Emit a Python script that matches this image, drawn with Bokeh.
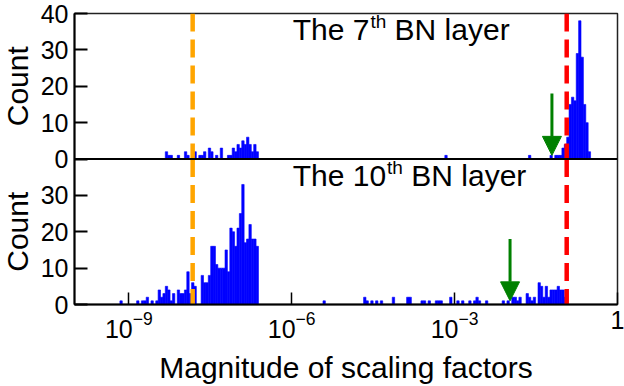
import math
from bokeh.plotting import figure
from bokeh.layouts import row
from bokeh.core.properties import value
from bokeh.models import (Range1d, FixedTicker, LogTickFormatter, Span, Label,
                          Arrow, NormalHead)
from bokeh.embed import file_html
from bokeh.resources import INLINE

# ---------------- data ----------------
# histogram of |scaling factors|, uniform bins in log10 space
LOG_X_MIN = -10.0
LOG_X_MAX = 0.0
BIN_WIDTH_DEC = 0.044

# 7th BN layer: bin index -> count
bn7_bins = [38, 39, 40, 43, 46, 47, 49, 50, 52, 53, 54, 56, 57, 59, 61, 64, 65,
            66, 67, 68, 69, 70, 71, 72, 73, 74, 75, 76,
            155, 190, 199, 201, 202, 203, 204, 205, 206, 207, 208, 209, 210,
            211, 212, 213, 214, 215]
bn7_counts = [2, 1, 1, 1, 2, 1, 2, 2, 1, 1, 2, 3, 2, 1, 3, 1, 1,
              3, 2, 4, 3, 5, 4, 6, 4, 2, 4, 2,
              1, 1, 1, 1, 1, 1, 3, 4, 6, 15, 17, 16, 29,
              38, 28, 15, 10, 2]

# 10th BN layer: bin index -> count
bn10_bins = [19, 26, 28, 29, 30, 32, 34, 35, 36, 37, 38, 39, 40, 41, 43, 44, 45,
             46, 47, 48, 49, 50, 53, 54, 55, 56, 57, 58, 59, 60, 61, 62, 63, 64,
             65, 66, 67, 68, 69, 70, 71, 72, 73, 74, 75, 76,
             104, 121, 122, 124, 126, 128, 133, 139, 140, 145, 146, 148, 151,
             152, 153, 157, 160, 162, 165, 167, 168, 169, 172, 179, 181, 183,
             184, 185, 186, 189, 190, 191, 192, 194, 195, 196, 197, 198, 199,
             200, 201, 202, 203, 204, 205]
bn10_counts = [1, 1, 1, 1, 2, 1, 1, 4, 2, 3, 5, 4, 1, 3, 4, 3, 3,
               4, 9, 3, 6, 5, 8, 6, 6, 8, 16, 16, 11, 10, 10, 10, 15, 9,
               21, 20, 16, 21, 25, 33, 17, 18, 22, 18, 18, 16,
               1, 2, 1, 1, 1, 1, 2, 2, 2, 1, 1, 1, 1,
               1, 1, 2, 1, 1, 1, 1, 2, 1, 1, 1, 1, 2,
               2, 1, 2, 3, 2, 1, 2, 6, 5, 2, 5, 2, 4,
               4, 4, 5, 4, 4, 2]

Y_MAX = 40
top_ticks = [0, 10, 20, 30, 40]
bottom_ticks = [0, 10, 20, 30]
x_ticks = [1e-9, 1e-6, 1e-3, 1]

orange_threshold = 1.5e-8
red_threshold = 0.116
bn7_arrow_x = 0.062
bn10_arrow_x = 0.0105
arrow_tail = 18
arrow_tip = 1

panel_titles = [("The 7", "th", "BN layer"), ("The 10", "th", "BN layer")]
title_x = 1e-6
title_y = 35.5
count_label_y = 20
y_label = "Count"
x_label = "Magnitude of scaling factors"

FONT = "Liberation Sans"
BLUE = "#0000FF"
GREEN = "#008000"
ORANGE = "#FFA500"
RED = "#FF0000"

# layout (pixels)
TOTAL_W, TOTAL_H = 624, 386
LABEL_W = 36
BORDER_TOP = 13
BORDER_BOTTOM = 82
FRAME_LEFT = 74
BORDER_RIGHT = 7

# Arial / Liberation Sans advance widths (per 1000 em) for offsets of superscripts
ADV = {"T": 611, "h": 556, "e": 556, " ": 278, "7": 556, "1": 556, "0": 556, "t": 278}


def text_width(s, size):
    return sum(ADV[c] for c in s) / 1000.0 * size


def edges(bins):
    left = [10 ** (LOG_X_MIN + k * BIN_WIDTH_DEC) for k in bins]
    right = [10 ** (LOG_X_MIN + (k + 1) * BIN_WIDTH_DEC) for k in bins]
    return left, right


# ---------------- y-label strip ----------------
lab = figure(width=LABEL_W, height=TOTAL_H, x_range=Range1d(0, LABEL_W),
             y_range=Range1d(0, 2 * Y_MAX), output_backend="svg", toolbar_location=None,
             min_border_left=0, min_border_right=0,
             min_border_top=BORDER_TOP, min_border_bottom=BORDER_BOTTOM)
lab.axis.visible = False
lab.grid.visible = False
lab.outline_line_color = None
lab.text(x=[17, 17], y=[count_label_y, count_label_y + Y_MAX],
         text=[y_label, y_label], angle=math.pi / 2, text_align="center",
         text_baseline="middle", text_font=value(FONT), text_font_size="30px",
         text_color="black")

# ---------------- main figure ----------------
p = figure(width=TOTAL_W - LABEL_W, height=TOTAL_H, x_axis_type="log",
           x_range=Range1d(10 ** LOG_X_MIN, 10 ** LOG_X_MAX),
           y_range=Range1d(0, 2 * Y_MAX),
           output_backend="svg", toolbar_location=None,
           min_border_left=FRAME_LEFT - LABEL_W, min_border_right=BORDER_RIGHT,
           min_border_top=BORDER_TOP, min_border_bottom=BORDER_BOTTOM)
p.extra_y_ranges = {"top": Range1d(-Y_MAX, Y_MAX)}
p.grid.visible = False
p.outline_line_color = "#222222"
p.outline_line_width = 1.5

# bars
for bins, counts, rng in ((bn7_bins, bn7_counts, "top"), (bn10_bins, bn10_counts, "default")):
    l, r = edges(bins)
    p.quad(left=l, right=r, bottom=0, top=counts, y_range_name=rng,
           fill_color=BLUE, line_color=BLUE, line_width=0.6)

# dashed thresholds, one per panel (dash pattern restarts at each panel top)
for rng in ("top", "default"):
    for xv, col in ((orange_threshold, ORANGE), (red_threshold, RED)):
        p.segment(x0=[xv], y0=[Y_MAX], x1=[xv], y1=[0], y_range_name=rng,
                  line_color=col, line_width=4.5, line_dash="18 8", line_cap="butt")

# panel separator (zero line of the upper panel)
p.add_layout(Span(location=Y_MAX, dimension="width", line_color="black", line_width=2))

# arrows
for xv, rng in ((bn7_arrow_x, "top"), (bn10_arrow_x, "default")):
    p.add_layout(Arrow(x_start=xv, y_start=arrow_tail, x_end=xv, y_end=arrow_tip,
                       y_range_name=rng, line_color=GREEN, line_width=3,
                       end=NormalHead(size=19, fill_color=GREEN, line_color=GREEN, line_width=1)))

# panel titles with superscript
MAIN_SIZE = 30
SUP_SIZE = 19
for (a, sup, b), rng in zip(panel_titles, ("top", "default")):
    off = 1
    p.add_layout(Label(x=title_x, y=title_y, y_range_name=rng, text=a, x_offset=off,
                       text_font=FONT, text_font_size=f"{MAIN_SIZE}px",
                       text_baseline="middle", text_color="black"))
    off += text_width(a, MAIN_SIZE) + 1
    p.add_layout(Label(x=title_x, y=title_y, y_range_name=rng, text=sup, x_offset=off,
                       y_offset=8, text_font=FONT, text_font_size=f"{SUP_SIZE}px",
                       text_baseline="middle", text_color="black"))
    off += text_width(sup, SUP_SIZE) + text_width(" ", MAIN_SIZE)
    p.add_layout(Label(x=title_x, y=title_y, y_range_name=rng, text=b, x_offset=off,
                       text_font=FONT, text_font_size=f"{MAIN_SIZE}px",
                       text_baseline="middle", text_color="black"))

# y axis: bottom panel ticks + upper panel ticks (shifted by Y_MAX)
yax = p.yaxis[0]
yax.ticker = FixedTicker(ticks=bottom_ticks + [t + Y_MAX for t in top_ticks])
yax.major_label_overrides = {t + Y_MAX: str(t) for t in top_ticks}
yax.major_tick_in = 13
yax.major_tick_out = 0
yax.minor_tick_in = 0
yax.minor_tick_out = 0
yax.major_tick_line_width = 2
yax.axis_line_width = 2
yax.major_label_text_font = FONT
yax.major_label_text_font_size = "25px"
yax.major_label_standoff = 6
yax.major_label_text_color = "black"

xax = p.xaxis[0]
xax.ticker = FixedTicker(ticks=x_ticks)
xax.formatter = LogTickFormatter(min_exponent=1)
xax.major_label_overrides = {1: "1"}
xax.major_tick_in = 12
xax.major_tick_out = 0
xax.minor_tick_in = 0
xax.minor_tick_out = 0
xax.major_tick_line_width = 1.5
xax.axis_line_width = 2
xax.major_label_text_font = FONT
xax.major_label_text_font_size = "25px"
xax.major_label_standoff = 6
xax.major_label_text_line_height = 1.0
xax.major_label_text_color = "black"
xax.axis_label = x_label
xax.axis_label_text_font = FONT
xax.axis_label_text_font_size = "30px"
xax.axis_label_text_font_style = "normal"
xax.axis_label_text_line_height = 1.0
xax.axis_label_text_color = "black"
xax.axis_label_standoff = 10

layout = row(lab, p, spacing=0)
open("out.html", "w").write(file_html(layout, INLINE))
